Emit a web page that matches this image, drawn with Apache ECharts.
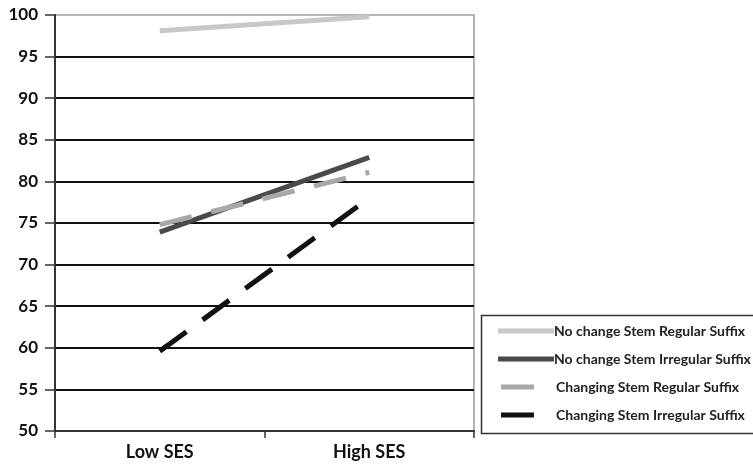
<!DOCTYPE html>
<html>
<head>
<meta charset="utf-8">
<script src="https://cdn.jsdelivr.net/npm/echarts@6/dist/echarts.min.js"></script>
<style>html,body{margin:0;padding:0;background:#fff;}#c{width:753px;height:468px;}</style>
</head>
<body>
<div id="c"></div>
<script>
var categories = ['Low SES', 'High SES'];
var seriesNames = ['No change Stem Regular Suffix', 'No change Stem Irregular Suffix', 'Changing Stem Regular Suffix', 'Changing Stem Irregular Suffix'];
var noChangeRegular = [98.1, 99.8];
var noChangeIrregular = [73.9, 82.9];
var changingRegular = [74.8, 81.1];
var changingIrregular = [59.6, 78.0];
var yTicks = [50, 55, 60, 65, 70, 75, 80, 85, 90, 95, 100];

var FONT = 'Lato, "Open Sans", sans-serif';
var colors = ['#c8c8c8', '#4a4a4a', '#a8a8a8', '#111111'];
var dataSets = [noChangeRegular, noChangeIrregular, changingRegular, changingIrregular];
var dashes = ['solid', 'solid', [33, 20], [33, 20]];

var chart = echarts.init(document.getElementById('c'), null, {renderer: 'canvas'});
var series = seriesNames.map(function (n, i) {
  return {
    name: n, type: 'line', data: dataSets[i], symbol: 'none', animation: false,
    lineStyle: {color: colors[i], width: 5, type: dashes[i], cap: 'butt'},
    itemStyle: {color: colors[i]}
  };
});
chart.setOption({
  animation: false,
  backgroundColor: '#fff',
  grid: {left: 55, right: 279, top: 15, bottom: 37, show: true, borderColor: '#b4b4b4', borderWidth: 2, backgroundColor: 'transparent'},
  xAxis: {
    type: 'category', data: categories, boundaryGap: true,
    axisLine: {lineStyle: {color: '#333', width: 2}},
    axisTick: {show: true, length: 7, lineStyle: {color: '#333', width: 1.5}},
    axisLabel: {fontFamily: FONT, fontWeight: 'bold', fontSize: 18, color: '#111', margin: 12}
  },
  yAxis: {
    type: 'value', min: yTicks[0], max: yTicks[yTicks.length - 1], interval: 5,
    axisLine: {show: true, lineStyle: {color: '#333', width: 2}},
    axisTick: {show: true, length: 10, lineStyle: {color: '#333', width: 1.5}},
    axisLabel: {fontFamily: FONT, fontWeight: 'bold', fontSize: 17, color: '#111', margin: 17},
    splitLine: {show: true, showMinLine: false, showMaxLine: false, lineStyle: {color: '#111', width: 2}}
  },
  legend: [{
    data: seriesNames.slice(0, 2), orient: 'vertical', left: 493, top: 319,
    itemWidth: 56, itemHeight: 5, itemGap: 14, icon: 'rect',
    textStyle: {fontFamily: FONT, fontWeight: 'bold', fontSize: 14, color: '#222', padding: [0, 0, 0, -5]}
  }, {
    data: seriesNames.slice(2), orient: 'vertical', left: 496, top: 375,
    itemWidth: 33, itemHeight: 5, itemGap: 14, icon: 'rect',
    textStyle: {fontFamily: FONT, fontWeight: 'bold', fontSize: 14, color: '#222', padding: [0, 0, 0, 17]}
  }],
  graphic: [{
    type: 'rect', left: 479, top: 313, shape: {width: 290, height: 118},
    style: {fill: 'none', stroke: '#333', lineWidth: 1.5}, silent: true, z: -1
  }],
  series: series
});
</script>
</body>
</html>
